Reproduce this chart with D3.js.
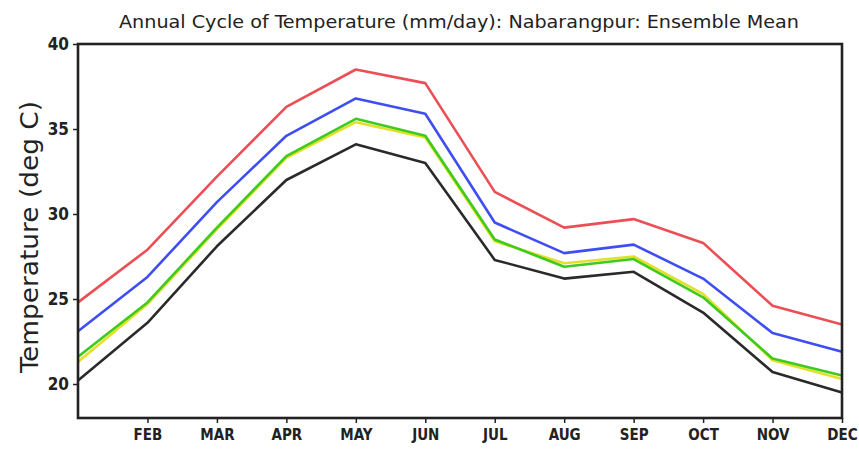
<!DOCTYPE html>
<html>
  <head>
    <meta charset="utf-8">
    <title>Annual cycle of temperature</title>
    <style media="screen">
      body {margin:0; background:#fff}
      text {font-family: "DejaVu Sans Condensed", "Liberation Sans Narrow", "DejaVu Sans", sans-serif; fill:#222}
      .series {fill:none; stroke-width:2.6; stroke-linejoin:round}
    </style>
  </head>
  <body>
    <script src="https://cdn.jsdelivr.net/npm/d3@7"></script>
    <script type="text/javascript">

    const months = ['JAN','FEB','MAR','APR','MAY','JUN','JUL','AUG','SEP','OCT','NOV','DEC']
    const yTicks = [20, 25, 30, 35, 40]

    const red    = [24.8, 27.9, 32.2, 36.3, 38.5, 37.7, 31.3, 29.2, 29.7, 28.3, 24.6, 23.5]
    const blue   = [23.1, 26.3, 30.7, 34.6, 36.8, 35.9, 29.5, 27.7, 28.2, 26.2, 23.0, 21.9]
    const yellow = [21.3, 24.7, 29.1, 33.3, 35.4, 34.5, 28.4, 27.1, 27.5, 25.3, 21.4, 20.3]
    const green  = [21.6, 24.8, 29.2, 33.4, 35.6, 34.6, 28.5, 26.9, 27.35, 25.1, 21.5, 20.5]
    const black  = [20.2, 23.6, 28.1, 32.0, 34.1, 33.0, 27.3, 26.2, 26.6, 24.2, 20.7, 19.5]

    const series = [
      {name: 'black',  values: black,  color: '#2a2a2a'},
      {name: 'yellow', values: yellow, color: '#e4e02a'},
      {name: 'green',  values: green,  color: '#3fca1f'},
      {name: 'blue',   values: blue,   color: '#3f4ef2'},
      {name: 'red',    values: red,    color: '#ec4e55'}
    ]

    const w = 859, h = 450
    const mLeft = 78, mRight = 842, mTop = 44, mBottom = 418

    const svg = d3.select('body').append('svg')
      .attr('width', w)
      .attr('height', h)

    const x = d3.scalePoint().domain(months).range([mLeft, mRight])
    const y = d3.scaleLinear().domain([18, 40]).range([mBottom, mTop])

    const line = d3.line()
      .x((_, i) => x(months[i]))
      .y(d => y(d))

    svg.selectAll('path.series')
      .data(series)
      .enter().append('path')
      .attr('class', 'series')
      .attr('stroke', d => d.color)
      .attr('d', d => line(d.values))

    // frame
    svg.append('rect')
      .attr('x', mLeft).attr('y', mTop)
      .attr('width', mRight - mLeft).attr('height', mBottom - mTop)
      .attr('fill', 'none').attr('stroke', '#222').attr('stroke-width', 2.6)

    // y axis
    const yAxis = svg.append('g')
      .attr('transform', `translate(${mLeft},0)`)
      .call(d3.axisLeft(y).tickValues(yTicks).tickSize(5).tickPadding(4))
    yAxis.select('.domain').remove()
    yAxis.selectAll('line').attr('stroke', '#222').attr('stroke-width', 1.5)
    yAxis.selectAll('text')
      .attr('font-size', 17).attr('font-weight', 'bold').style('fill', '#222')

    // x axis
    const xAxis = svg.append('g')
      .attr('transform', `translate(0,${mBottom})`)
      .call(d3.axisBottom(x).tickValues(months.slice(1)).tickSize(5).tickPadding(6))
    xAxis.select('.domain').remove()
    xAxis.selectAll('line').attr('stroke', '#222').attr('stroke-width', 1.5)
    xAxis.selectAll('text')
      .attr('font-size', 15).attr('font-weight', 'bold').style('fill', '#222')

    svg.append('text')
      .attr('x', 459).attr('y', 28)
      .attr('text-anchor', 'middle')
      .attr('font-size', 18)
      .attr('textLength', 680)
      .attr('lengthAdjust', 'spacingAndGlyphs')
      .text('Annual Cycle of Temperature (mm/day): Nabarangpur: Ensemble Mean')

    svg.append('text')
      .attr('transform', `translate(38,${(mTop + mBottom) / 2 + 6}) rotate(-90)`)
      .attr('text-anchor', 'middle')
      .attr('font-size', 24)
      .attr('textLength', 272)
      .attr('lengthAdjust', 'spacingAndGlyphs')
      .text('Temperature (deg C)')

    </script>
  </body>
</html>
